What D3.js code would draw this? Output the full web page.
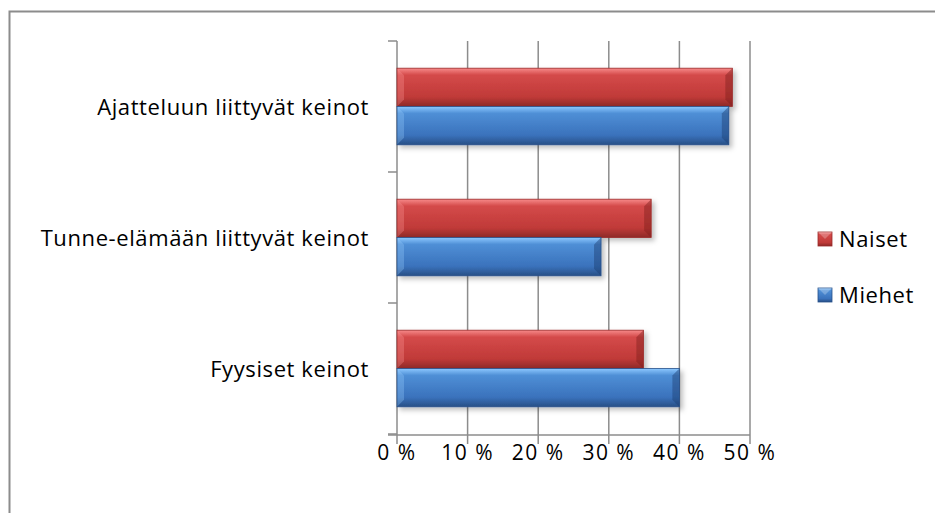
<!DOCTYPE html>
<html>
<head>
<meta charset="utf-8">
<script src="https://cdn.jsdelivr.net/npm/d3@7"></script>
<style>
  html, body { margin: 0; padding: 0; background: #fff; }
  svg { display: block; font-family: "Open Sans", Lato, "Liberation Sans", sans-serif; }
</style>
</head>
<body>
<script>
// Keinojen käyttö sukupuolittain
const categories = ["Ajatteluun liittyvät keinot", "Tunne-elämään liittyvät keinot", "Fyysiset keinot"];
const seriesNames = ["Naiset", "Miehet"];
const naiset = [47.5, 36.0, 34.9];
const miehet = [47.0, 28.9, 40.0];
const tickValues = [0, 10, 20, 30, 40, 50];

const W = 935, H = 513;
const svg = d3.select("body").append("svg").attr("width", W).attr("height", H);

const defs = svg.append("defs");
function barGradient(id, top, mid, bottom) {
  const g = defs.append("linearGradient").attr("id", id)
    .attr("x1", 0).attr("y1", 0).attr("x2", 0).attr("y2", 1);
  g.append("stop").attr("offset", "0%").attr("stop-color", top);
  g.append("stop").attr("offset", "18%").attr("stop-color", mid[0]);
  g.append("stop").attr("offset", "75%").attr("stop-color", mid[1]);
  g.append("stop").attr("offset", "100%").attr("stop-color", bottom);
}
barGradient("gRed", "#f78a8a", ["#d44a4a", "#c03a38"], "#8e2a28");
barGradient("gBlue", "#8cc8ff", ["#4f8fd6", "#3a72bc"], "#284f86");
const shadow = defs.append("filter").attr("id", "shadow")
  .attr("x", "-5%").attr("y", "-20%").attr("width", "115%").attr("height", "160%");
shadow.append("feDropShadow").attr("dx", 3).attr("dy", 3).attr("stdDeviation", 2.5)
  .attr("flood-color", "#000").attr("flood-opacity", 0.25);

// chart frame
svg.append("rect").attr("x", 9.5).attr("y", 11.5).attr("width", 940).attr("height", 520)
  .attr("fill", "none").attr("stroke", "#8c8c8c").attr("stroke-width", 2);

const x = d3.scaleLinear().domain([0, 50]).range([397, 750]);
const y = d3.scaleBand().domain(categories).range([41, 434]);
const inner = d3.scaleBand().domain(seriesNames).range([0, y.bandwidth()]).paddingInner(0).paddingOuter(0.71);

// grid
svg.append("g").selectAll("line").data(tickValues.slice(1)).join("line")
  .attr("x1", d => x(d)).attr("x2", d => x(d)).attr("y1", 41).attr("y2", 444)
  .attr("stroke", "#8c8c8c").attr("stroke-width", 1.5);

// y axis with category boundary ticks
svg.append("line").attr("x1", x(0)).attr("x2", x(0)).attr("y1", 41).attr("y2", 444)
  .attr("stroke", "#8c8c8c").attr("stroke-width", 1.5);
const bounds = categories.map(c => y(c)).concat([y.range()[1]]);
svg.append("g").selectAll("line").data(bounds).join("line")
  .attr("x1", 388).attr("x2", x(0)).attr("y1", d => d).attr("y2", d => d)
  .attr("stroke", "#8c8c8c").attr("stroke-width", 1.5);
// x axis line
svg.append("line").attr("x1", 388).attr("x2", x(50)).attr("y1", 435).attr("y2", 435)
  .attr("stroke", "#8c8c8c").attr("stroke-width", 1.5);

// tick labels
svg.append("g").selectAll("text").data(tickValues).join("text")
  .attr("x", d => x(d)).attr("y", 460).attr("text-anchor", "middle")
  .attr("font-size", 21).attr("letter-spacing", 1.5).attr("fill", "#000").text(d => d + " %");

// category labels
svg.append("g").selectAll("text").data(categories).join("text")
  .attr("x", 369).attr("y", d => y(d) + y.bandwidth() / 2 + 8).attr("text-anchor", "end")
  .attr("font-size", 22).attr("letter-spacing", 0.6).attr("fill", "#000").text(d => d);

// bars with bevelled ends
function drawBars(values, name, grad, edge) {
  const g = svg.append("g");
  categories.forEach((c, i) => {
    const x0 = x(0), x1 = x(values[i]);
    const y0 = y(c) + inner(name), h = inner.bandwidth();
    const bg = g.append("g").attr("filter", "url(#shadow)");
    bg.append("rect").attr("x", x0).attr("y", y0).attr("width", x1 - x0).attr("height", h)
      .attr("fill", `url(#${grad})`);
    const b = 7;
    bg.append("path").attr("d", `M${x1},${y0} L${x1 - b},${y0 + b} L${x1 - b},${y0 + h - b} L${x1},${y0 + h} Z`)
      .attr("fill", edge[0]).attr("opacity", 0.45);
    bg.append("path").attr("d", `M${x0},${y0} L${x0 + b},${y0 + b} L${x0 + b},${y0 + h - b} L${x0},${y0 + h} Z`)
      .attr("fill", edge[1]).attr("opacity", 0.3);
    bg.append("rect").attr("x", x0).attr("y", y0).attr("width", x1 - x0).attr("height", h)
      .attr("fill", "none").attr("stroke", edge[2]).attr("stroke-width", 0.8);
  });
}
drawBars(naiset, "Naiset", "gRed", ["#7e1e1c", "#ff9a9a", "#9a2a28"]);
drawBars(miehet, "Miehet", "gBlue", ["#1d3f70", "#9bd0ff", "#27508a"]);

// legend
const legend = svg.append("g");
const legendItems = [{ name: "Naiset", grad: "gRed", stroke: "#9a2a28" }, { name: "Miehet", grad: "gBlue", stroke: "#27508a" }];
legendItems.forEach((d, i) => {
  const ly = 232 + i * 56;
  legend.append("rect").attr("x", 818).attr("y", ly).attr("width", 14).attr("height", 14)
    .attr("fill", `url(#${d.grad})`).attr("stroke", d.stroke).attr("stroke-width", 0.8);
  legend.append("path").attr("d", `M818,${ly} L825,${ly + 7} L832,${ly} Z`).attr("fill", "#fff").attr("opacity", 0.25);
  legend.append("text").attr("x", 839).attr("y", ly + 15).attr("font-size", 22).attr("letter-spacing", 0.6)
    .attr("fill", "#000").text(d.name);
});
</script>
</body>
</html>
